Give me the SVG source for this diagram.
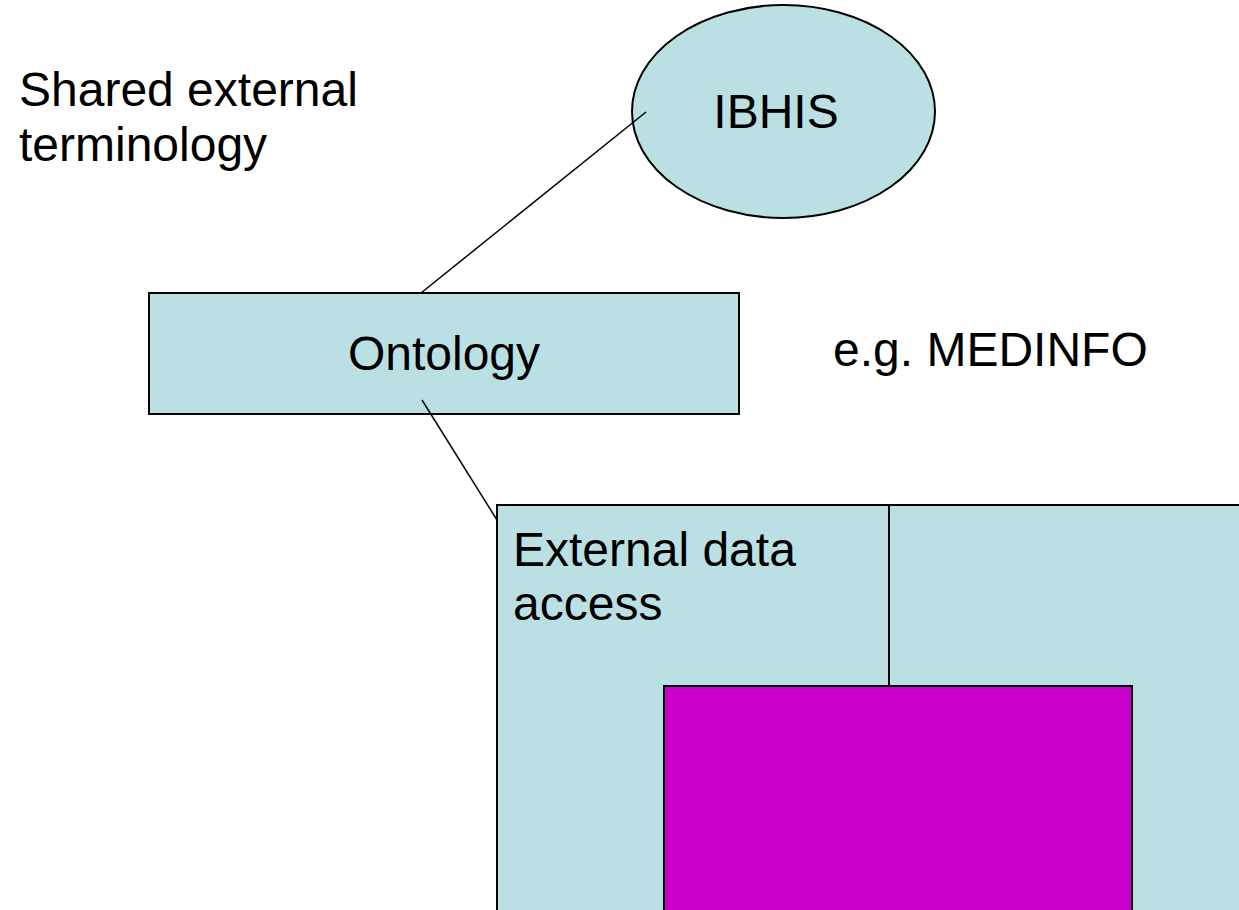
<svg xmlns="http://www.w3.org/2000/svg" width="1239" height="910" viewBox="0 0 1239 910">
<style>
.shape{fill:#BBE0E3;stroke:#000;stroke-width:2}
.conn{stroke:#000;stroke-width:1.5;fill:none}
text{font-family:"Liberation Sans",Arial,sans-serif;font-size:48px;fill:#000}
</style>
<rect width="1239" height="910" fill="#fff"/>
<g id="label-shared">
<text x="19" y="106">Shared external</text>
<text x="19" y="161">terminology</text>
</g>
<g id="label-medinfo">
<text x="833" y="366">e.g. MEDINFO</text>
</g>
<g id="ibhis">
<ellipse class="shape" cx="783.5" cy="111.5" rx="151.5" ry="106.5"/>
<text x="776" y="128" text-anchor="middle">IBHIS</text>
</g>
<g id="ontology">
<rect class="shape" x="149" y="293" width="590" height="121"/>
<text x="444" y="370" text-anchor="middle">Ontology</text>
</g>
<g id="external-data-access">
<rect class="shape" x="497" y="505" width="750" height="420"/>
<line class="conn" x1="889" y1="505" x2="889" y2="686" style="stroke-width:2"/>
<text x="513" y="566">External data</text>
<text x="513" y="620">access</text>
</g>
<g id="inner">
<rect x="664" y="686" width="468" height="240" fill="#CC00CC" stroke="#000" stroke-width="2"/>
</g>
<g id="connectors">
<line class="conn" x1="421" y1="293" x2="646" y2="112"/>
<line class="conn" x1="422" y1="400" x2="497" y2="520"/>
</g>
</svg>
